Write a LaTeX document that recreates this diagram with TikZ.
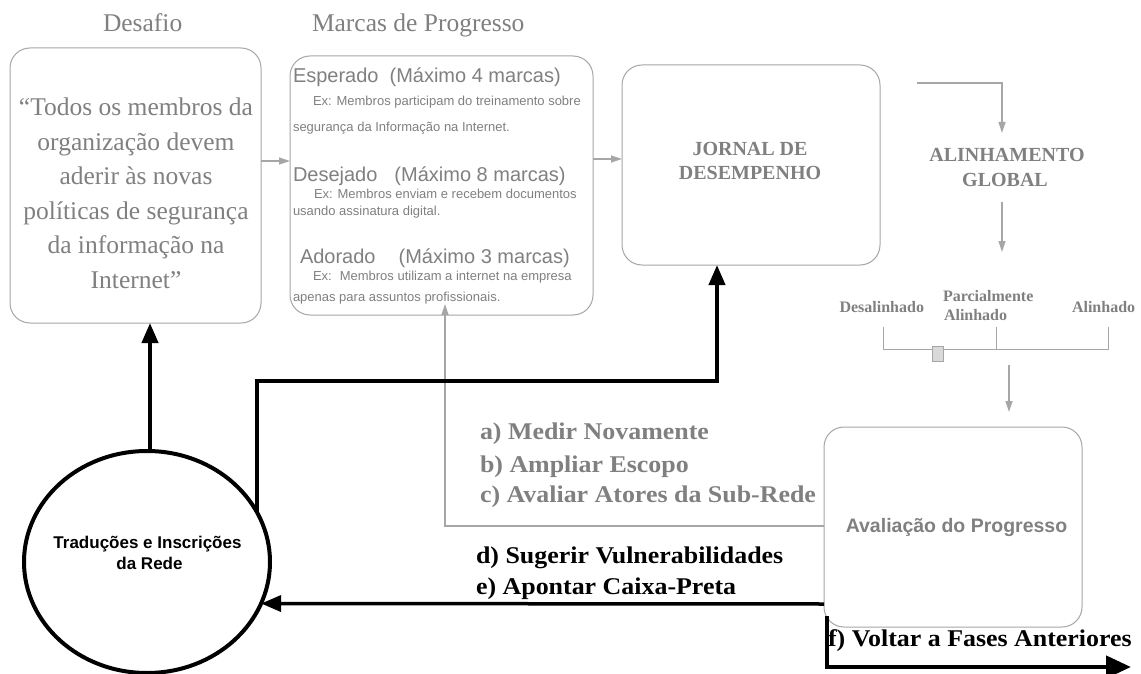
\documentclass[tikz,border=0pt]{standalone}
\usepackage{fontspec}
\setmainfont{Liberation Serif}
\newfontfamily\arial{Liberation Sans}
\usetikzlibrary{arrows.meta,shapes.geometric}
\definecolor{txtgray}{RGB}{128,128,128}
\definecolor{linegray}{RGB}{166,166,166}
\definecolor{slidergray}{RGB}{217,217,217}
\newcommand{\fsz}[1]{\fontsize{#1}{#1}\selectfont}
\newcommand{\wideb}[1]{\scalebox{1.08}[1]{#1}}

\begin{document}
\begin{tikzpicture}[x=1pt,y=-1pt,
  panel/.style={draw=linegray, line width=1pt, rounded corners=20pt, inner sep=0pt, outer sep=0pt},
  garrow/.style={draw=linegray, line width=1.2pt, -{Triangle[length=11pt,width=7pt]}},
  barrow/.style={draw=black, line width=4pt, -{Triangle[length=20pt,width=16pt]}},
  txt/.style={inner sep=0pt, outer sep=0pt},
  title/.style={txt, text=txtgray, font=\fsz{25.5}},
  quote/.style={txt, anchor=base, text=txtgray, font=\fsz{25.5}},
  mhead/.style={txt, anchor=base west, text=txtgray, font=\arial\fsz{20}},
  mnote/.style={txt, anchor=base west, text=txtgray, font=\arial\fsz{13}},
  heavy/.style={txt, anchor=base, text=txtgray, font=\bfseries\fsz{20}},
  scalelbl/.style={txt, text=txtgray, font=\bfseries\fsz{16}},
  action/.style={txt, anchor=base west, font=\bfseries\fsz{24}},
]
% canvas
\path[use as bounding box, fill=white] (0,0) rectangle (1141,674);

% column titles
\node[title, anchor=base west] (tDesafio) at (103,32) {Desafio};
\node[title, anchor=base west] (tMarcas) at (312,32) {Marcas de Progresso};

% main panels
\node[panel, minimum width=251pt, minimum height=275pt] (desafio) at (135.5,185.5) {};
\node[panel, minimum width=303pt, minimum height=259pt] (marcas) at (441.5,185.5) {};
\node[panel, minimum width=258pt, minimum height=200pt] (jornal) at (751,165) {};
\node[panel, minimum width=258pt, minimum height=200pt] (aval) at (953,527) {};
\node[draw=black, line width=4pt, ellipse, minimum width=246pt, minimum height=222pt,
      inner sep=0pt, outer sep=0pt] (circ) at (147,562) {};

% challenge statement
\node[quote] (q1) at (136,116)   {“Todos os membros da};
\node[quote] (q2) at (136,150.4) {organização devem};
\node[quote] (q3) at (136,184.8) {aderir às novas};
\node[quote] (q4) at (136,219.2) {políticas de segurança};
\node[quote] (q5) at (136,253.6) {da informação na};
\node[quote] (q6) at (136,288)   {Internet”};

% progress markers
\node[mhead] (m1) at (293,83)  {Esperado\hspace{11pt}(Máximo 4 marcas)};
\node[mnote] (m1a) at (313,106) {Ex: Membros participam do treinamento sobre};
\node[mnote] (m1b) at (293,132) {segurança da Informação na Internet.};
\node[mhead] (m2) at (293,182) {Desejado\hspace{17pt}(Máximo 8 marcas)};
\node[mnote] (m2a) at (314,199) {Ex: Membros enviam e recebem documentos};
\node[mnote] (m2b) at (293,215) {usando assinatura digital.};
\node[mhead] (m3) at (300,263) {Adorado\hspace{23pt}(Máximo 3 marcas)};
\node[mnote] (m3a) at (313,280) {Ex:\hspace{8pt}Membros utilizam a internet na empresa};
\node[mnote] (m3b) at (293,301) {apenas para assuntos profissionais.};

% journal
\node[heavy] (j1) at (750,156) {JORNAL DE};
\node[heavy] (j2) at (750,179) {DESEMPENHO};

% global alignment
\node[heavy] (g1) at (1007,162) {ALINHAMENTO};
\node[heavy] (g2) at (1005,186) {GLOBAL};

% alignment scale
\draw[linegray, line width=1pt] (883,327) -- (883,349) -- (1108,349) -- (1108,327);
\draw[linegray, line width=1pt] (996,327) -- (996,349);
\node[draw=linegray, fill=slidergray, line width=0.8pt, minimum width=11pt, minimum height=15pt,
      inner sep=0pt] (slider) at (937.5,353.5) {};
\node[scalelbl, anchor=base east] (s1) at (924,312) {Desalinhado};
\node[scalelbl, anchor=base west] (s2) at (943,301) {Parcialmente};
\node[scalelbl, anchor=base west] (s3) at (944,320) {Alinhado};
\node[scalelbl, anchor=base west] (s4) at (1072,312) {Alinhado};

% evaluation and network
\node[txt, anchor=base, text=txtgray, font=\arial\bfseries\fsz{19.5}] (avalTxt) at (956.5,532) {Avaliação do Progresso};
\node[txt, anchor=base, font=\arial\bfseries\fsz{17}] (c1) at (147.5,548) {Traduções e Inscrições};
\node[txt, anchor=base, font=\arial\bfseries\fsz{17}] (c2) at (149.5,569) {da Rede};

% actions
\node[action, text=txtgray] (ra) at (480,439) {\wideb{a) Medir Novamente}};
\node[action, text=txtgray] (rb) at (480,472) {\wideb{b) Ampliar Escopo}};
\node[action, text=txtgray] (rc) at (480,502) {\wideb{c) Avaliar Atores da Sub-Rede}};
\node[action] (rd) at (476,563) {\wideb{d) Sugerir Vulnerabilidades}};
\node[action] (re) at (476,594) {\wideb{e) Apontar Caixa-Preta}};
\node[action] (rf) at (828,646) {\wideb{f) Voltar a Fases Anteriores}};

% free ends of the flow
\coordinate (jOut) at (917,83);
\coordinate (alinIn) at (1002,133);
\coordinate (alinOut) at (1002,202);
\coordinate (scaleIn) at (1002,252);
\coordinate (scaleOut) at (1009,365);
\coordinate (fEnd) at (1131,667);

% grey flow
\draw[garrow] ([yshift=24.5pt]desafio.east) -- ([yshift=24.5pt]marcas.west);
\draw[garrow] ([yshift=26.5pt]marcas.east) -- ([yshift=6pt]jornal.west);
\draw[garrow] (jOut) -| (alinIn);
\draw[garrow] (alinOut) -- (scaleIn);
\draw[garrow, shorten >=15pt] (scaleOut) -- (scaleOut |- aval.north);
\draw[garrow] ([yshift=1pt]aval.west) -| ([xshift=3.5pt,yshift=11pt]marcas.south);

% black feedback
\draw[barrow] (circ.north -| 150,0) -- (desafio.south -| 150,0);
\draw[barrow] (circ.24) |- (717,381) -- ([xshift=-34pt]jornal.south);
\draw[barrow, line width=3.5pt] (aval.west |- 0,604) -- (circ.-20);
\draw[line width=4.5pt, -{Triangle[length=25pt,width=22pt]}]
  ([xshift=3pt,yshift=11pt]aval.south west) |- (fEnd);
\end{tikzpicture}
\end{document}
